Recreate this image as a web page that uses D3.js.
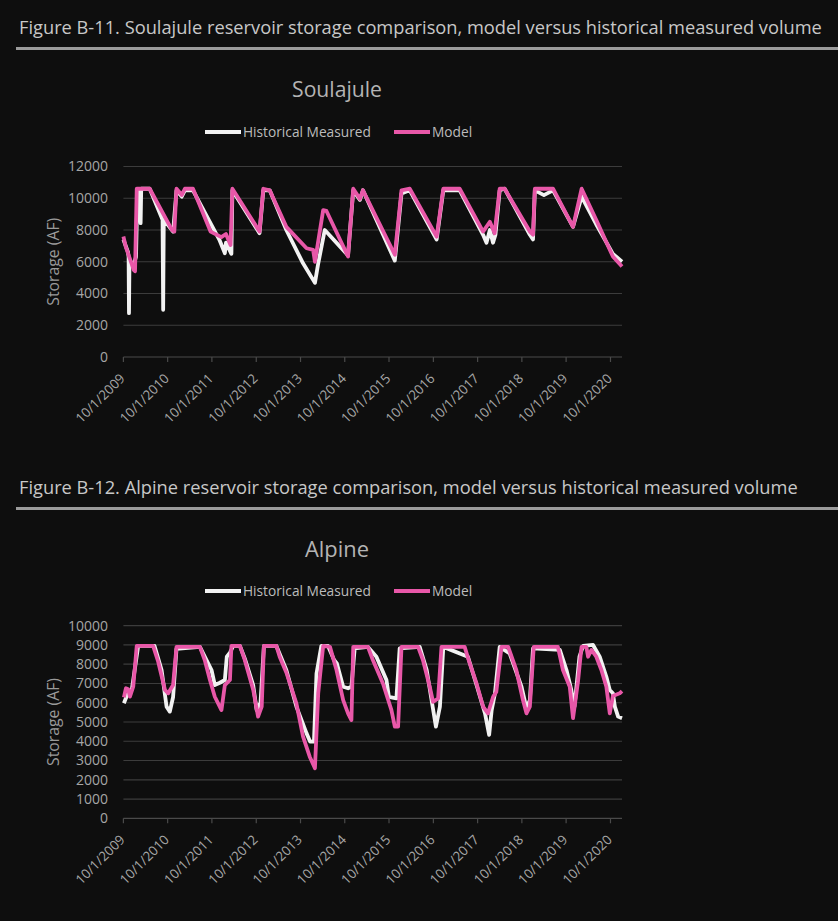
<!DOCTYPE html>
<html>
<head>
<meta charset="utf-8">
<script src="https://cdn.jsdelivr.net/npm/d3@7"></script>
<style>
  html, body { margin: 0; padding: 0; background: #0e0e0e; }
  svg { display: block; }
  text { font-family: "Open Sans", "Noto Sans", sans-serif; }
</style>
</head>
<body>
<div id="container-svg"></div>
<script>
// Series data (date, storage AF)
const seriesNames = ["Historical Measured", "Model"]
const yearTicks = ["2009-10-01", "2010-10-01", "2011-10-01", "2012-10-01", "2013-10-01", "2014-10-01",
    "2015-10-01", "2016-10-01", "2017-10-01", "2018-10-01", "2019-10-01", "2020-10-01"]

const soulajuleHistorical = [
    ["2009-10-01", 7400], ["2009-11-08", 6600], ["2009-11-13", 6300], ["2009-11-16", 2760], ["2009-11-20", 6000],
    ["2009-12-28", 5900], ["2010-01-13", 6300], ["2010-01-25", 10500], ["2010-02-16", 10500], ["2010-02-20", 8430],
    ["2010-02-25", 10600], ["2010-05-06", 10600], ["2010-08-20", 8640], ["2010-08-25", 2970], ["2010-08-30", 8650],
    ["2010-11-15", 7900], ["2010-12-13", 10500], ["2011-01-25", 10100], ["2011-02-20", 10500], ["2011-04-28", 10500],
    ["2011-12-01", 7400], ["2012-01-16", 6540], ["2012-01-25", 7200], ["2012-03-10", 6500], ["2012-03-18", 10500],
    ["2012-10-28", 7800], ["2012-11-28", 10500], ["2013-01-20", 10500], ["2013-06-06", 8000], ["2013-10-22", 5900],
    ["2014-01-28", 4670], ["2014-02-22", 5800], ["2014-04-19", 8000], ["2014-10-28", 6400], ["2014-12-10", 10500],
    ["2015-02-03", 9900], ["2015-02-28", 10500], ["2015-11-18", 6070], ["2016-01-12", 10300], ["2016-03-20", 10500],
    ["2016-10-28", 7400], ["2016-12-22", 10500], ["2017-05-06", 10500], ["2017-11-15", 7700], ["2017-12-13", 7200],
    ["2018-01-10", 8000], ["2018-02-05", 7200], ["2018-02-25", 7700], ["2018-04-01", 10500], ["2018-05-12", 10600],
    ["2018-12-06", 7700], ["2019-01-01", 7400], ["2019-01-16", 10500], ["2019-04-01", 10200], ["2019-06-15", 10500],
    ["2019-11-27", 8200], ["2020-02-06", 10100], ["2020-06-06", 8350], ["2020-10-21", 6500], ["2021-01-04", 6000]
]
const soulajuleModel = [
    ["2009-10-01", 7590], ["2009-10-20", 6960], ["2009-12-25", 5490], ["2010-01-05", 5400], ["2010-01-19", 10600],
    ["2010-05-06", 10600], ["2010-11-05", 8010], ["2010-11-25", 7900], ["2010-12-13", 10600], ["2011-01-25", 10200],
    ["2011-02-20", 10600], ["2011-04-28", 10600], ["2011-09-20", 7900], ["2011-12-18", 7550], ["2012-01-25", 7750],
    ["2012-03-03", 7060], ["2012-03-18", 10600], ["2012-10-28", 7900], ["2012-11-28", 10600], ["2013-01-20", 10500],
    ["2013-06-06", 8200], ["2013-11-20", 6850], ["2014-01-13", 6750], ["2014-01-28", 6000], ["2014-04-06", 9250],
    ["2014-05-03", 9200], ["2014-10-28", 6330], ["2014-12-10", 10600], ["2015-02-03", 9960], ["2015-02-28", 10500],
    ["2015-11-18", 6440], ["2016-01-12", 10500], ["2016-03-20", 10600], ["2016-10-28", 7580], ["2016-12-22", 10600],
    ["2017-05-06", 10600], ["2017-11-15", 7900], ["2018-01-10", 8520], ["2018-02-18", 7800], ["2018-04-01", 10600],
    ["2018-05-12", 10600], ["2018-12-06", 7900], ["2019-01-01", 7700], ["2019-01-16", 10600], ["2019-06-15", 10600],
    ["2019-11-27", 8200], ["2020-02-06", 10600], ["2020-06-06", 8620], ["2020-10-21", 6330], ["2021-01-04", 5700]
]

const alpineHistorical = [
    ["2009-10-05", 5970], ["2009-11-01", 6400], ["2009-12-10", 6700], ["2010-01-31", 8950], ["2010-06-15", 8950],
    ["2010-08-12", 7700], ["2010-09-22", 5800], ["2010-10-19", 5540], ["2010-11-15", 6300], ["2010-12-13", 8800],
    ["2011-06-24", 8900], ["2011-08-03", 8390], ["2011-09-28", 7700], ["2011-10-25", 6920], ["2011-12-06", 7040],
    ["2012-01-16", 7180], ["2012-02-01", 8390], ["2012-02-27", 8600], ["2012-03-25", 8950], ["2012-05-19", 8950],
    ["2012-06-28", 8300], ["2012-09-06", 6900], ["2012-10-04", 5620], ["2012-11-05", 6000], ["2012-12-03", 8950],
    ["2013-03-16", 8950], ["2013-06-06", 7700], ["2013-08-28", 5800], ["2013-11-20", 4410], ["2013-12-20", 3980],
    ["2014-01-20", 3980], ["2014-02-10", 7520], ["2014-03-22", 8950], ["2014-05-16", 8950], ["2014-07-05", 8220],
    ["2014-07-28", 8040], ["2014-09-18", 6830], ["2014-10-28", 6750], ["2014-11-25", 6830], ["2014-12-22", 8820],
    ["2015-04-10", 8900], ["2015-06-19", 8390], ["2015-09-10", 7180], ["2015-09-30", 6310], ["2015-12-01", 6230],
    ["2015-12-28", 8820], ["2016-06-10", 8900], ["2016-08-07", 7700], ["2016-09-16", 6140], ["2016-10-22", 4760],
    ["2016-11-24", 5800], ["2016-12-22", 8900], ["2017-07-13", 8390], ["2017-09-22", 6920], ["2017-12-01", 5450],
    ["2018-01-04", 4330], ["2018-01-25", 5620], ["2018-02-21", 6490], ["2018-04-01", 8900], ["2018-06-22", 8560],
    ["2018-09-28", 6830], ["2018-11-08", 5700], ["2018-12-06", 6140], ["2019-01-01", 8820], ["2019-08-10", 8740],
    ["2019-10-04", 7700], ["2019-11-13", 6660], ["2019-12-09", 5800], ["2020-01-19", 8390], ["2020-02-18", 8950],
    ["2020-05-10", 9000], ["2020-07-04", 8390], ["2020-08-28", 7350], ["2020-09-25", 6660], ["2020-10-21", 6490],
    ["2020-11-06", 5800], ["2020-12-03", 5280], ["2021-01-04", 5200]
]
const alpineModel = [
    ["2009-10-05", 6280], ["2009-10-22", 6750], ["2009-11-10", 6700], ["2009-11-24", 6320], ["2009-12-21", 6830],
    ["2010-01-19", 8950], ["2010-06-03", 8950], ["2010-07-15", 8130], ["2010-09-09", 6660], ["2010-10-06", 6490],
    ["2010-11-15", 6920], ["2010-12-13", 8900], ["2011-06-24", 8900], ["2011-08-03", 8220], ["2011-09-15", 7180],
    ["2011-10-25", 6310], ["2011-12-19", 5620], ["2012-01-16", 6920], ["2012-02-27", 7180], ["2012-03-10", 8950],
    ["2012-05-19", 8950], ["2012-06-28", 8220], ["2012-09-06", 6660], ["2012-10-16", 5280], ["2012-11-15", 5800],
    ["2012-12-03", 8950], ["2013-03-16", 8950], ["2013-04-12", 8390], ["2013-06-06", 7570], ["2013-08-28", 5970],
    ["2013-10-22", 4240], ["2013-12-16", 3200], ["2014-01-28", 2600], ["2014-02-24", 6490], ["2014-04-06", 8950],
    ["2014-06-01", 8900], ["2014-07-25", 7700], ["2014-09-18", 6140], ["2014-10-28", 5450], ["2014-11-25", 5100],
    ["2014-12-10", 8900], ["2015-04-10", 8900], ["2015-05-21", 8220], ["2015-08-12", 7000], ["2015-10-21", 5620],
    ["2015-11-18", 4760], ["2015-12-15", 4760], ["2016-01-12", 8900], ["2016-05-28", 8900], ["2016-07-07", 8220],
    ["2016-09-01", 6830], ["2016-09-28", 6050], ["2016-11-09", 6220], ["2016-12-07", 8900], ["2017-06-16", 8900],
    ["2017-07-28", 8040], ["2017-09-22", 7000], ["2017-11-15", 5800], ["2017-12-25", 5450], ["2018-02-06", 6310],
    ["2018-03-04", 6560], ["2018-04-16", 8900], ["2018-06-10", 8900], ["2018-08-16", 7700], ["2018-10-10", 6140],
    ["2018-11-08", 5450], ["2018-12-06", 5800], ["2019-01-07", 8900], ["2019-07-25", 8900], ["2019-09-05", 7700],
    ["2019-10-31", 6830], ["2019-11-27", 5200], ["2020-01-07", 7100], ["2020-02-05", 8900], ["2020-03-16", 8900],
    ["2020-03-30", 8390], ["2020-04-27", 8740], ["2020-06-06", 8390], ["2020-07-18", 7700], ["2020-08-28", 6830],
    ["2020-09-25", 5450], ["2020-10-21", 6350], ["2020-12-16", 6490], ["2021-01-04", 6600]
]

const HIST_COLOR = "#f2f2f2"
const MODEL_COLOR = "#e857a8"
const GRID_COLOR = "#3c3c3c"
const TEXT_COLOR = "#a6a6a6"

const width = 838
const height = 921
const parseDate = d3.timeParse("%Y-%m-%d")

const svg = d3.select("div#container-svg")
    .append("svg")
    .attr("width", width)
    .attr("height", height)

svg.append("rect").attr("width", width).attr("height", height).attr("fill", "#0e0e0e")

const x = d3.scaleTime()
    .domain([parseDate("2009-10-01"), parseDate("2021-01-04")])
    .range([123.4, 622])

// Scale the font size of a selection so that one sample text gets the wanted width
const fitFont = function(sel, sampleNode, targetWidth) {
    const size = +d3.select(sampleNode).attr("font-size")
    const w = sampleNode.getComputedTextLength()
    if (w > 0) sel.attr("font-size", size * targetWidth / w)
}

const drawChart = function(cfg) {
    const g = svg.append("g").attr("class", "chart")

    // Figure caption and rule
    const caption = g.append("text")
        .attr("x", 19).attr("y", cfg.captionY)
        .attr("font-size", 20)
        .attr("fill", "#c8c8c8")
        .text(cfg.caption)
    fitFont(caption, caption.node(), cfg.captionLen)
    g.append("rect")
        .attr("x", 16).attr("y", cfg.captionY + 13)
        .attr("width", width - 16).attr("height", 3)
        .attr("fill", "#9b9b9b")

    // Chart title
    const title = g.append("text")
        .attr("x", 337).attr("y", cfg.titleY)
        .attr("text-anchor", "middle")
        .attr("font-size", 20)
        .attr("fill", "#b4b4b4")
        .text(cfg.title)
    fitFont(title, title.node(), cfg.titleWidth)

    // Legend
    const legend = g.append("g").attr("transform", "translate(0," + cfg.legendY + ")")
    const legendItems = [
        { name: seriesNames[0], color: HIST_COLOR, x0: 205 },
        { name: seriesNames[1], color: MODEL_COLOR, x0: 394 }
    ]
    legendItems.forEach(function(d) {
        legend.append("line")
            .attr("x1", d.x0).attr("x2", d.x0 + 36)
            .attr("y1", 0).attr("y2", 0)
            .attr("stroke", d.color).attr("stroke-width", 4)
        legend.append("text")
            .attr("class", "legend-label")
            .attr("x", d.x0 + 38).attr("y", 0).attr("dy", "0.35em")
            .attr("font-size", 14)
            .attr("fill", "#bcbcbc")
            .text(d.name)
    })
    const legendLabels = legend.selectAll("text.legend-label")
    fitFont(legendLabels, legendLabels.nodes()[0], 128)

    const y = d3.scaleLinear().domain([0, cfg.yMax]).range([cfg.y0, cfg.yTop])

    // Grid lines + y labels
    const yTicks = d3.range(0, cfg.yMax + 1, cfg.yStep)
    g.selectAll("line.grid")
        .data(yTicks)
        .join("line")
        .attr("class", "grid")
        .attr("x1", x.range()[0]).attr("x2", x.range()[1])
        .attr("y1", d => y(d)).attr("y2", d => y(d))
        .attr("stroke", d => d === 0 ? "#4a4a4a" : GRID_COLOR)
        .attr("stroke-width", 1.2)
    const yLabels = g.selectAll("text.ytick")
        .data(yTicks)
        .join("text")
        .attr("class", "ytick")
        .attr("x", 108).attr("y", d => y(d)).attr("dy", "0.35em")
        .attr("text-anchor", "end")
        .attr("font-size", 14)
        .attr("fill", TEXT_COLOR)
        .text(d => d)
    fitFont(yLabels, yLabels.nodes()[yLabels.size() - 1], cfg.yLabelWidth)

    const yTitle = g.append("text")
        .attr("transform", "translate(59," + ((cfg.y0 + cfg.yTop) / 2) + ") rotate(-90)")
        .attr("text-anchor", "middle")
        .attr("font-size", 15)
        .attr("fill", "#9a9a9a")
        .text("Storage (AF)")
    fitFont(yTitle, yTitle.node(), 88)

    // X ticks
    const xTickDates = yearTicks.map(parseDate)
    g.selectAll("line.xtick")
        .data(xTickDates)
        .join("line")
        .attr("class", "xtick")
        .attr("x1", d => x(d)).attr("x2", d => x(d))
        .attr("y1", cfg.y0).attr("y2", cfg.y0 + 5)
        .attr("stroke", "#4a4a4a").attr("stroke-width", 1.2)
    const fmt = d3.timeFormat("%-m/%-d/%Y")
    const xLabels = g.selectAll("text.xlabel")
        .data(xTickDates)
        .join("text")
        .attr("class", "xlabel")
        .attr("transform", d => "translate(" + (x(d) - 1) + "," + (cfg.y0 + 19) + ") rotate(-45)")
        .attr("text-anchor", "end")
        .attr("dy", "0.35em")
        .attr("font-size", 14)
        .attr("fill", TEXT_COLOR)
        .text(d => fmt(d))
    fitFont(xLabels, xLabels.nodes()[0], 63)

    // Lines
    const line = d3.line()
        .x(d => x(parseDate(d[0])))
        .y(d => y(d[1]))
    g.append("path")
        .attr("d", line(cfg.hist))
        .attr("fill", "none")
        .attr("stroke", HIST_COLOR)
        .attr("stroke-width", 3.8)
        .attr("stroke-linejoin", "round")
    g.append("path")
        .attr("d", line(cfg.model))
        .attr("fill", "none")
        .attr("stroke", MODEL_COLOR)
        .attr("stroke-width", 3.8)
        .attr("stroke-linejoin", "round")
}

drawChart({
    caption: "Figure B-11. Soulajule reservoir storage comparison, model versus historical measured volume",
    captionY: 34, captionLen: 803,
    title: "Soulajule", titleY: 97, titleWidth: 90, legendY: 132,
    yMax: 12000, yStep: 2000, y0: 357, yTop: 166.5, yLabelWidth: 40,
    hist: soulajuleHistorical, model: soulajuleModel
})

drawChart({
    caption: "Figure B-12. Alpine reservoir storage comparison, model versus historical measured volume",
    captionY: 494, captionLen: 779,
    title: "Alpine", titleY: 557, titleWidth: 64, legendY: 591,
    yMax: 10000, yStep: 1000, y0: 818.3, yTop: 625.7, yLabelWidth: 40,
    hist: alpineHistorical, model: alpineModel
})
</script>
</body>
</html>
